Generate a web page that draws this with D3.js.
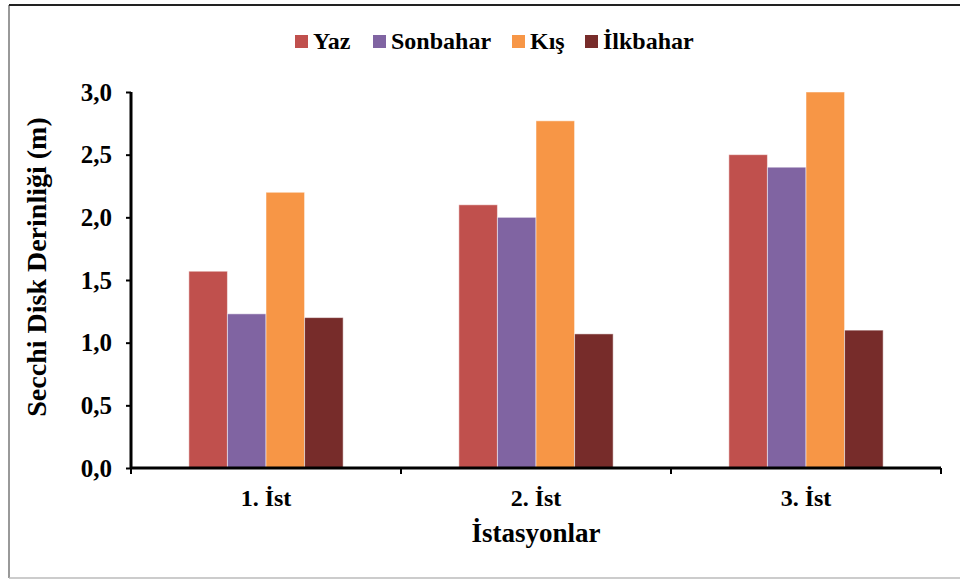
<!DOCTYPE html>
<html lang="tr">
<head>
    <meta charset="UTF-8">
    <title>Secchi Disk Derinliği</title>
    <script src="https://d3js.org/d3.v7.min.js"></script>
    <style>
        body { margin: 0; background: #fff; }
        text { font-family: "Liberation Serif", "Times New Roman", serif; font-weight: bold; fill: #000; }
    </style>
</head>
<body>
    <div id="chart-container"></div>
    <script>
        const stations = ["1. İst", "2. İst", "3. İst"];
        const seasons = ["Yaz", "Sonbahar", "Kış", "İlkbahar"];
        const seasonColors = ["#C0504D", "#8064A2", "#F79646", "#772C2A"];
        const yaz = [1.57, 2.1, 2.5];
        const sonbahar = [1.23, 2.0, 2.4];
        const kis = [2.2, 2.77, 3.0];
        const ilkbahar = [1.2, 1.07, 1.1];
        const yTicks = [0, 0.5, 1.0, 1.5, 2.0, 2.5, 3.0];

        const seriesValues = [yaz, sonbahar, kis, ilkbahar];

        const containerWidth = 960;
        const containerHeight = 580;
        const margins = { top: 92, right: 19, bottom: 112, left: 131 };
        const width = containerWidth - margins.left - margins.right;
        const height = containerHeight - margins.top - margins.bottom;

        const root = d3.select("#chart-container")
            .append("svg")
            .attr("width", containerWidth)
            .attr("height", containerHeight);

        // outer frame
        root.append("line").attr("x1", 9).attr("x2", 9).attr("y1", 5).attr("y2", 578)
            .attr("stroke", "#777").attr("stroke-width", 1.5);
        root.append("line").attr("x1", 9).attr("x2", 960).attr("y1", 5).attr("y2", 5)
            .attr("stroke", "#222").attr("stroke-width", 2);
        root.append("line").attr("x1", 9).attr("x2", 960).attr("y1", 578).attr("y2", 578)
            .attr("stroke", "#bbb").attr("stroke-width", 1.5);

        const svg = root.append("g")
            .attr("transform", `translate(${margins.left},${margins.top})`);

        const x0 = d3.scaleBand().domain(stations).range([0, width]).paddingInner(3 / 7).paddingOuter(1.5 / 7);
        const x1 = d3.scaleBand().domain(seasons).range([0, x0.bandwidth()]);
        const y = d3.scaleLinear().domain([0, 3]).range([height, 0]);
        const color = d3.scaleOrdinal().domain(seasons).range(seasonColors);

        const rows = stations.map((s, i) => ({
            station: s,
            values: seasons.map((k, j) => ({ season: k, value: seriesValues[j][i] }))
        }));

        svg.selectAll(".group")
            .data(rows)
            .enter()
            .append("g")
            .attr("class", "group")
            .attr("transform", d => `translate(${x0(d.station)},0)`)
            .selectAll("rect")
            .data(d => d.values)
            .enter()
            .append("rect")
            .attr("x", d => x1(d.season))
            .attr("y", d => y(d.value))
            .attr("width", x1.bandwidth())
            .attr("height", d => height - y(d.value))
            .attr("fill", d => color(d.season))
            .attr("stroke", "rgba(255,255,255,0.5)")
            .attr("stroke-width", 1);

        // y axis
        const yAxis = svg.append("g")
            .attr("class", "axis axis-y")
            .call(d3.axisLeft(y).tickValues(yTicks).tickSize(5).tickPadding(14)
                .tickFormat(d => d3.format(".1f")(d).replace(".", ",")));
        yAxis.select(".domain").attr("stroke", "#000").attr("stroke-width", 3)
            .attr("d", `M0,0V${height}`);
        yAxis.selectAll(".tick line").attr("stroke", "#000").attr("stroke-width", 2);
        yAxis.selectAll(".tick text").style("font-size", "25px").attr("dy", "0.33em");

        // x axis with ticks at band edges
        const xAxis = svg.append("g")
            .attr("class", "axis axis-x")
            .attr("transform", `translate(0,${height})`)
            .call(d3.axisBottom(x0).tickSize(0).tickPadding(21));
        xAxis.select(".domain").attr("stroke", "#000").attr("stroke-width", 3)
            .attr("d", `M0,0H${width}`);
        xAxis.selectAll(".tick text").style("font-size", "24px");
        xAxis.selectAll(".edge")
            .data(d3.range(stations.length + 1))
            .enter()
            .append("line")
            .attr("class", "edge")
            .attr("x1", i => i * x0.step())
            .attr("x2", i => i * x0.step())
            .attr("y1", 0)
            .attr("y2", 6)
            .attr("stroke", "#000")
            .attr("stroke-width", 2);

        // axis titles
        svg.append("text")
            .attr("x", width / 2)
            .attr("y", height + 74)
            .attr("text-anchor", "middle")
            .style("font-size", "27px")
            .text("İstasyonlar");

        svg.append("text")
            .attr("transform", "rotate(-90)")
            .attr("x", -height / 2 + 13)
            .attr("y", -85)
            .attr("text-anchor", "middle")
            .style("font-size", "28px")
            .text("Secchi Disk Derinliği (m)");

        // legend
        const legendX = [295, 373, 512, 585];
        const legend = root.append("g").attr("class", "legend");
        const items = legend.selectAll(".item")
            .data(seasons)
            .enter()
            .append("g")
            .attr("class", "item")
            .attr("transform", (d, i) => `translate(${legendX[i]},35)`);
        items.append("rect")
            .attr("width", 13)
            .attr("height", 13)
            .attr("fill", d => color(d));
        items.append("text")
            .attr("x", 18)
            .attr("y", 14)
            .style("font-size", "24px")
            .text(d => d);
    </script>
</body>
</html>
